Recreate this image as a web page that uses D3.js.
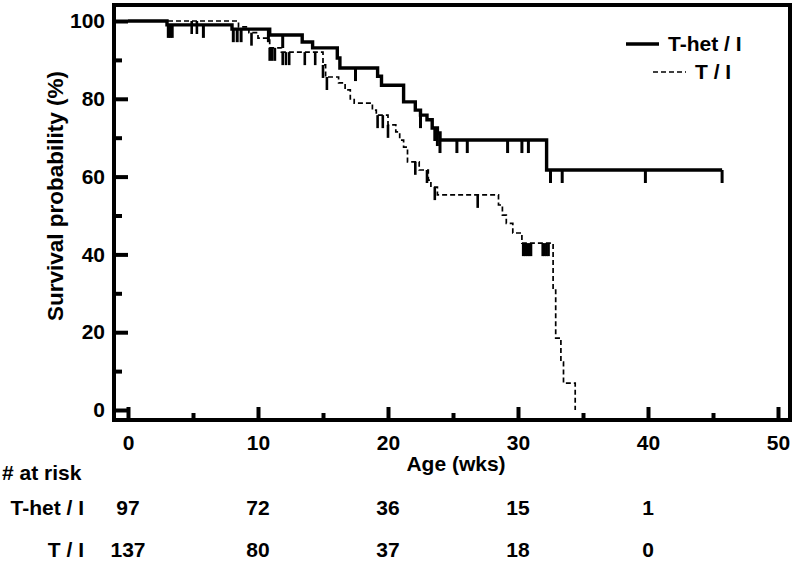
<!DOCTYPE html>
<html lang="en">
<head>
    <meta charset="UTF-8">
    <title>Survival by age</title>
    <script src="https://d3js.org/d3.v7.min.js"></script>
    <style>
        body { margin: 0; background: #fff; }
        svg { display: block; background: #fff; }
        text { font-family: "Liberation Sans", Arial, sans-serif; font-weight: bold; fill: #000; }
    </style>
</head>
<body>
    <svg width="799" height="565"></svg>

    <script>
        // T-het / I (solid line)
        const hetTimes = [0, 3.0, 8.0, 10.9, 13.4, 14.2, 16.1, 16.3, 19.2, 19.5, 21.2, 22.1, 22.5, 23.0, 23.4, 23.8, 24.0, 32.2];
        const hetSurv  = [100, 99.0, 97.9, 96.4, 94.6, 93.1, 90.5, 87.9, 85.8, 83.5, 79.2, 77.1, 75.8, 74.6, 72.5, 71.2, 69.4, 61.7];
        const hetEnd = 45.7;
        const hetCensor = [3.1, 3.25, 3.4, 5.8, 8.1, 8.4, 8.7, 10.8, 11.9, 17.5, 22.5, 23.6, 23.8, 24.0, 25.3, 26.1, 29.2, 30.3, 30.8, 32.5, 33.4, 39.8, 45.7];

        // T / I (dashed line)
        const tiTimes = [0, 8.5, 9.3, 10.0, 10.9, 11.8, 15.0, 15.2, 16.2, 16.7, 17.1, 17.4, 18.8, 19.1, 20.0, 20.6, 20.9, 21.2, 21.5, 22.4, 23.1, 23.3, 23.8, 28.5, 28.8, 29.1, 29.6, 30.3, 32.7, 32.9, 33.3, 33.5, 34.4];
        const tiSurv  = [100, 98.5, 97.0, 95.6, 93.1, 92.0, 88.7, 85.6, 84.1, 82.3, 80.0, 78.9, 77.1, 75.8, 73.3, 71.5, 69.4, 67.6, 63.8, 61.7, 59.1, 57.3, 55.3, 52.7, 50.1, 48.0, 45.5, 42.9, 30.8, 18.5, 12.3, 6.9, 0];
        const tiEnd = 34.4;
        const tiCensor = [4.9, 5.3, 9.5, 10.9, 11.1, 11.3, 11.9, 12.15, 12.4, 13.6, 14.4, 15.0, 15.3, 19.2, 19.6, 20.0, 22.1, 23.0, 23.6, 26.9,
                          30.4, 30.55, 30.7, 30.85, 31.0, 31.9, 32.05, 32.2, 32.35];

        // number at risk table
        const riskWeeks = [0, 10, 20, 30, 40];
        const riskHet = [97, 72, 36, 15, 1];
        const riskTi = [137, 80, 37, 18, 0];

        const xMajor = [0, 10, 20, 30, 40, 50];
        const xMinor = [5, 15, 25, 35, 45];
        const yMajor = [0, 20, 40, 60, 80, 100];
        const yMinor = [10, 30, 50, 70, 90];

        const svg = d3.select("svg");
        const x = d3.scaleLinear().domain([0, 50]).range([128, 778]);
        const y = d3.scaleLinear().domain([0, 100]).range([410, 21]);
        const frame = { left: 114, right: 790, top: 5, bottom: 420 };

        // axes: ticks point inward
        const yAxis = svg.append("g").attr("transform", `translate(${frame.left},0)`);
        yAxis.call(d3.axisLeft(y).tickValues(yMajor).tickSize(-14).tickPadding(9));
        yAxis.append("g").call(d3.axisLeft(y).tickValues(yMinor).tickSize(-8).tickFormat(""));

        const xAxis = svg.append("g").attr("transform", `translate(0,${frame.bottom})`);
        xAxis.call(d3.axisBottom(x).tickValues(xMajor).tickSize(-13).tickPadding(15));
        xAxis.append("g").call(d3.axisBottom(x).tickValues(xMinor).tickSize(-7).tickFormat(""));

        svg.selectAll(".domain").remove();
        svg.selectAll(".tick line").attr("stroke", "#000").attr("stroke-width", 4);
        svg.selectAll(".tick text").style("font-size", "21px").attr("fill", "#000");

        svg.append("rect")
            .attr("x", frame.left).attr("y", frame.top)
            .attr("width", frame.right - frame.left)
            .attr("height", frame.bottom - frame.top)
            .attr("fill", "none")
            .attr("stroke", "#000")
            .attr("stroke-width", 4);

        const step = d3.line()
            .x(d => x(d[0]))
            .y(d => y(d[1]))
            .curve(d3.curveStepAfter);

        function survAt(times, surv, t) {
            const i = d3.bisectRight(times, t) - 1;
            return surv[Math.max(i, 0)];
        }

        const series = [
            { times: tiTimes, surv: tiSurv, end: tiEnd, censor: tiCensor, width: 1.7, dash: "5,3", tickWidth: 2.6 },
            { times: hetTimes, surv: hetSurv, end: hetEnd, censor: hetCensor, width: 3.4, dash: null, tickWidth: 3 }
        ];

        series.forEach(s => {
            const pts = s.times.map((t, i) => [t, s.surv[i]]);
            if (s.end > s.times[s.times.length - 1]) pts.push([s.end, s.surv[s.surv.length - 1]]);
            svg.append("path")
                .datum(pts)
                .attr("fill", "none")
                .attr("stroke", "#000")
                .attr("stroke-width", s.width)
                .attr("stroke-dasharray", s.dash)
                .attr("d", step);

            svg.append("g").selectAll("line")
                .data(s.censor)
                .join("line")
                .attr("x1", d => x(d)).attr("x2", d => x(d))
                .attr("y1", d => y(survAt(s.times, s.surv, d)))
                .attr("y2", d => y(survAt(s.times, s.surv, d)) + 13)
                .attr("stroke", "#000")
                .attr("stroke-width", s.tickWidth);
        });

        // legend
        const legend = [
            { label: "T-het / I", width: 3.4, dash: null, y: 44, x0: 626 },
            { label: "T / I", width: 1.7, dash: "5,3", y: 72, x0: 653 }
        ];
        legend.forEach(l => {
            svg.append("line")
                .attr("x1", l.x0).attr("x2", l.x0 + 33)
                .attr("y1", l.y).attr("y2", l.y)
                .attr("stroke", "#000")
                .attr("stroke-width", l.width)
                .attr("stroke-dasharray", l.dash);
            svg.append("text")
                .attr("x", l.x0 + 42).attr("y", l.y + 7)
                .style("font-size", "21px")
                .text(l.label);
        });

        // axis titles
        svg.append("text")
            .attr("transform", "translate(63,196) rotate(-90)")
            .attr("text-anchor", "middle")
            .style("font-size", "22.5px")
            .text("Survival probability (%)");

        svg.append("text")
            .attr("x", 456).attr("y", 471)
            .attr("text-anchor", "middle")
            .style("font-size", "21px")
            .text("Age (wks)");

        // number at risk
        svg.append("text")
            .attr("x", 2).attr("y", 480)
            .style("font-size", "21px")
            .text("# at risk");

        const rows = [
            { label: "T-het / I", values: riskHet, y: 515 },
            { label: "T / I", values: riskTi, y: 557 }
        ];
        rows.forEach(r => {
            svg.append("text")
                .attr("x", 84).attr("y", r.y)
                .attr("text-anchor", "end")
                .style("font-size", "21px")
                .text(r.label);
            svg.append("g").selectAll("text")
                .data(r.values)
                .join("text")
                .attr("x", (d, i) => x(riskWeeks[i]))
                .attr("y", r.y)
                .attr("text-anchor", "middle")
                .style("font-size", "21px")
                .text(d => d);
        });
    </script>
</body>
</html>
